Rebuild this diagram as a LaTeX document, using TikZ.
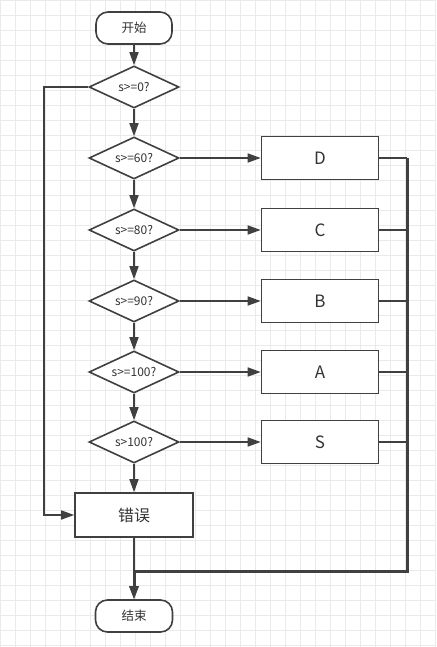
\documentclass[tikz,border=0pt]{standalone}
\usepackage{fontspec}
\setmainfont{Noto Sans CJK SC}
\usetikzlibrary{shapes.geometric,arrows.meta}
\definecolor{ln}{RGB}{64,64,64}
\definecolor{gridc}{RGB}{234,234,234}
\tikzset{
  x=1pt,y=-1pt,
  base/.style={draw=ln,line width=1.6pt,fill=white,inner sep=0pt,text=black!80},
  term/.style={base,rounded corners=12pt,minimum width=76pt,minimum height=32pt,font=\fontsize{12.5}{14}\selectfont},
  dec/.style={base,diamond,minimum width=90pt,minimum height=42pt,
    label={[font=\fontsize{12}{14}\selectfont,text=black!80,inner sep=0pt]center:#1}},
  proc/.style={base,rectangle,minimum width=117pt,minimum height=43pt,font=\fontsize{17}{19}\selectfont},
  conn/.style={draw=ln,line width=1.6pt,-{Triangle[length=13pt,width=9pt]}},
  plain/.style={draw=ln,line width=1.6pt},
  thick3/.style={draw=ln,line width=3pt}
}
\begin{document}
\begin{tikzpicture}
\useasboundingbox (0,0) rectangle (436,647);
\fill[white] (0,0) rectangle (436,647);
\foreach \i in {0,...,29} {\draw[gridc,line width=0.8pt] (\i*15+0.5,0) -- (\i*15+0.5,647);}
\foreach \i in {0,...,43} {\draw[gridc,line width=0.8pt] (0,\i*15+0.5) -- (436,\i*15+0.5);}

\node[term] (start) at (134,28) {开始};
\node[dec={s>=0?}] (d0) at (134,87) {};
\node[dec={s>=60?}] (d60) at (134,158) {};
\node[dec={s>=80?}] (d80) at (134,230) {};
\node[dec={s>=90?}] (d90) at (134,301) {};
\node[dec={s>=100?}] (d100) at (134,372) {};
\node[dec={s>100?}] (ds) at (134,442) {};
\node[proc] (D) at (320,158) {D};
\node[proc] (C) at (320,230) {C};
\node[proc] (B) at (320,301) {B};
\node[proc] (A) at (320,372) {A};
\node[proc] (S) at (320,442) {S};
\node[proc,minimum width=118pt,minimum height=44pt,font=\fontsize{16}{18}\selectfont] (err) at (134,515) {错误};
\node[term,minimum width=77pt] (end) at (134,616) {结束};

\coordinate (lt) at (44,87);
\coordinate (lb) at (44,515);
\coordinate (rt) at (407,158);
\coordinate (rb) at (407,571);
\coordinate (mg) at (134,571);

\draw[conn] (start) -- (d0);
\draw[conn] (d0) -- (d60);
\draw[conn] (d60) -- (d80);
\draw[conn] (d80) -- (d90);
\draw[conn] (d90) -- (d100);
\draw[conn] (d100) -- (ds);
\draw[conn] (ds) -- (err);
\draw[conn] (d60) -- (D);
\draw[conn] (d80) -- (C);
\draw[conn] (d90) -- (B);
\draw[conn] (d100) -- (A);
\draw[conn] (ds) -- (S);
\draw[conn] (d0.west) -- (lt) -- (lb) -- (err.west);
\draw[plain] (D.east) -- (rt);
\draw[plain] (C.east) -- (C.east -| rt);
\draw[plain] (B.east) -- (B.east -| rt);
\draw[plain] (A.east) -- (A.east -| rt);
\draw[plain] (S.east) -- (S.east -| rt);
\draw[conn] (err) -- (end);
\draw[thick3,line join=miter] (rt) -- (rb) -- (mg);
\draw[thick3,-{Triangle[length=13pt,width=9pt]}] (mg) -- (end);
\end{tikzpicture}
\end{document}
